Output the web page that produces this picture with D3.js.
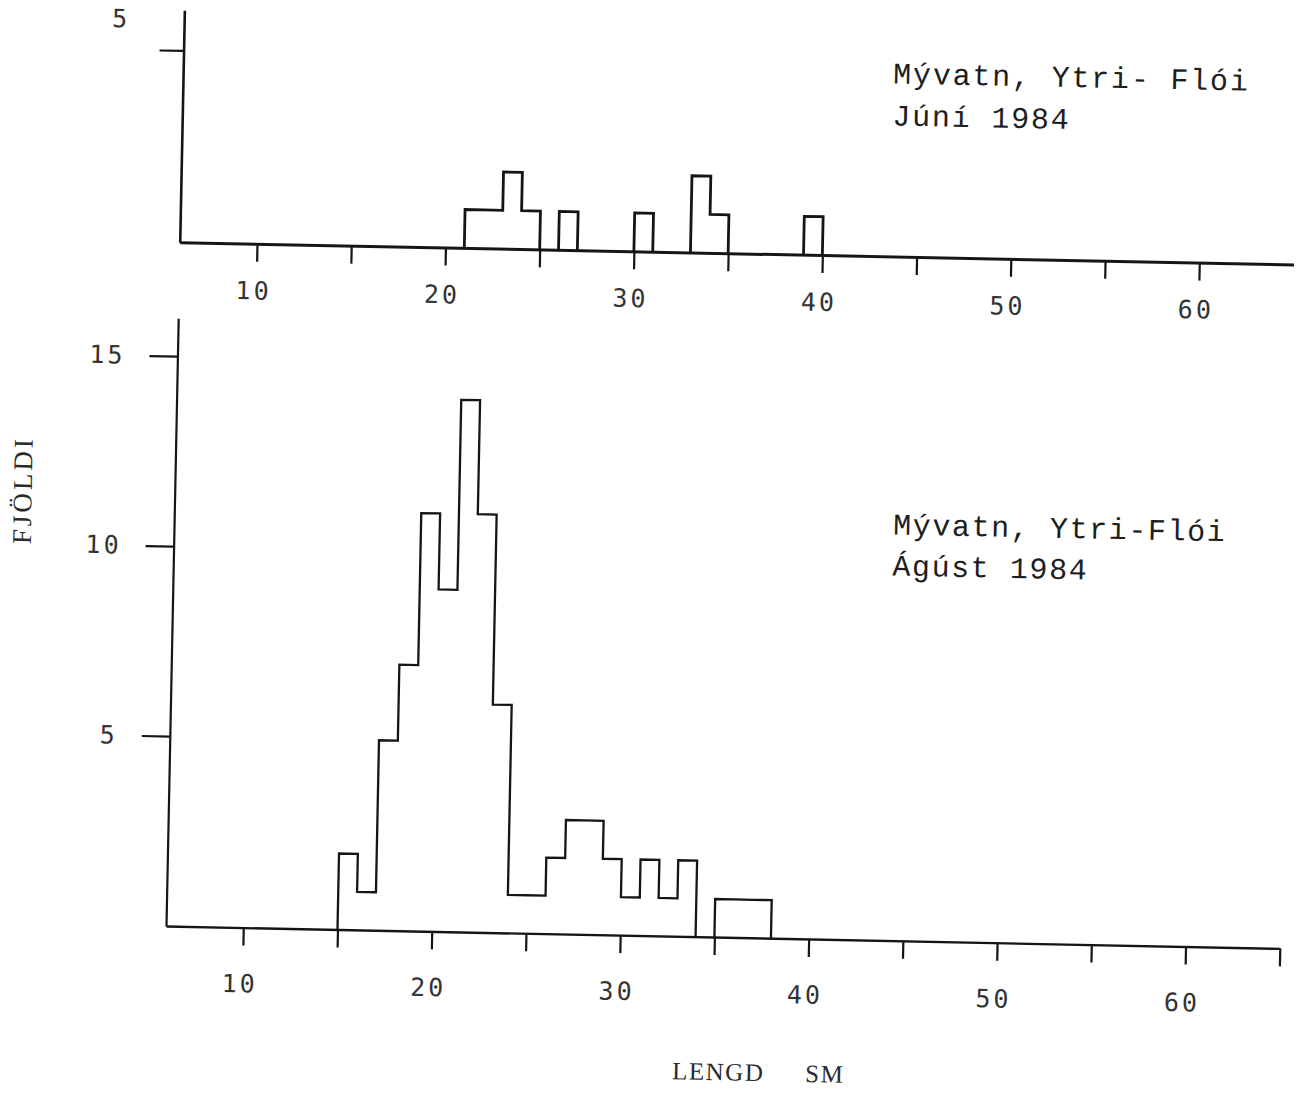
<!DOCTYPE html>
<html>
<head>
<meta charset="utf-8">
<script src="https://cdn.jsdelivr.net/npm/d3@7"></script>
<style>
  body { margin: 0; background: #fff; }
</style>
</head>
<body>
<div id="chart"></div>
<script>
var width = 1296;
var height = 1093;

// length classes (cm, lower edge of 1 cm bins) and counts
var junBins = [21, 22, 23, 24, 25, 26, 27, 28, 29, 30, 31, 32, 33, 34, 35, 36, 37, 38, 39];
var junCounts = [1, 1, 2, 1, 0, 1, 0, 0, 0, 1, 0, 0, 2, 1, 0, 0, 0, 0, 1];

var augBins = [15, 16, 17, 18, 19, 20, 21, 22, 23, 24, 25, 26, 27, 28, 29, 30, 31, 32, 33, 34, 35, 36, 37];
var augCounts = [2, 1, 5, 7, 11, 9, 14, 11, 6, 1, 1, 2, 3, 3, 2, 1, 2, 1, 2, 0, 1, 1, 1];

var xTicksTop = [10, 15, 20, 25, 30, 35, 40, 45, 50, 55, 60];
var xTicksBottom = [10, 15, 20, 25, 30, 35, 40, 45, 50, 55, 60, 65];
var xLabels = [10, 20, 30, 40, 50, 60];
var yTicksTop = [5];
var yTicksBottom = [5, 10, 15];

var junTitle = ["Mývatn, Ytri- Flói", "Júní 1984"];
var augTitle = ["Mývatn, Ytri-Flói", "Ágúst 1984"];

var ink = "#151515";

var svg = d3.select("#chart")
    .append("svg")
    .attr("width", width)
    .attr("height", height);

svg.append("rect")
    .attr("width", width)
    .attr("height", height)
    .attr("fill", "#fff");

// the scanned page sits a little crooked
var page = svg.append("g")
    .attr("transform", "rotate(1.15,165,926)");

var x = d3.scaleLinear()
    .domain([5.9, 65])
    .range([166, 1280]);

var yTop = d3.scaleLinear()
    .domain([0, 6.05])
    .range([242, 10]);

var yBottom = d3.scaleLinear()
    .domain([0, 16])
    .range([926, 318]);

var line = d3.line();

// stepped outline for each run of non-empty bins
function outline(bins, counts, y) {
  var runs = [];
  var pts = null;
  bins.forEach(function(b, i) {
    var n = counts[i];
    if (n > 0) {
      if (!pts) { pts = [[x(b), y(0)]]; }
      pts.push([x(b), y(n)]);
      pts.push([x(b + 1), y(n)]);
    } else if (pts) {
      pts.push([x(b), y(0)]);
      runs.push(pts);
      pts = null;
    }
  });
  if (pts) {
    pts.push([pts[pts.length - 1][0], y(0)]);
    runs.push(pts);
  }
  return runs;
}

function styleAxis(g, lw, fontSize) {
  g.attr("font-family", "'DejaVu Sans Mono', 'Liberation Mono', monospace")
    .attr("font-size", fontSize);
  g.select(".domain").attr("stroke", ink).attr("stroke-width", lw);
  g.selectAll(".tick line").attr("stroke", ink).attr("stroke-width", 2.2);
  g.selectAll(".tick text").attr("fill", "#333").attr("letter-spacing", 3);
}

function xFormat(d) { return xLabels.indexOf(d) >= 0 ? d : ""; }

// top panel: June
var junPanel = page.append("g");

junPanel.append("g")
    .attr("transform", "translate(0," + yTop(0) + ")")
    .call(d3.axisBottom(x).tickValues(xTicksTop).tickFormat(xFormat)
      .tickSize(18).tickSizeOuter(0).tickPadding(20))
    .call(styleAxis, 3, 25)
    .selectAll(".tick text").attr("dx", -3);

junPanel.append("g")
    .attr("transform", "translate(" + x.range()[0] + ",0)")
    .call(d3.axisLeft(yTop).tickValues(yTicksTop).tickFormat(d3.format("d"))
      .tickSize(24).tickSizeOuter(0).tickPadding(30))
    .call(styleAxis, 2.6, 25)
    .selectAll(".tick text").attr("dy", "-0.9em");

junPanel.selectAll("path.bars")
    .data(outline(junBins, junCounts, yTop))
    .enter()
    .append("path")
    .attr("class", "bars")
    .attr("d", line)
    .attr("fill", "none")
    .attr("stroke", ink)
    .attr("stroke-width", 2.8);

junPanel.selectAll("text.title")
    .data(junTitle)
    .enter()
    .append("text")
    .attr("class", "title")
    .attr("x", 876)
    .attr("y", function(d, i) { return 69 + i * 42; })
    .attr("font-family", "'Liberation Mono', monospace")
    .attr("font-size", 30)
    .attr("letter-spacing", 1.8)
    .attr("fill", "#1e1e1e")
    .text(function(d) { return d; });

// bottom panel: August
var augPanel = page.append("g");

augPanel.append("g")
    .attr("transform", "translate(0," + yBottom(0) + ")")
    .call(d3.axisBottom(x).tickValues(xTicksBottom).tickFormat(xFormat)
      .tickSize(18).tickSizeOuter(0).tickPadding(29))
    .call(styleAxis, 2.4, 25)
    .selectAll(".tick text").attr("dx", -3);

augPanel.append("g")
    .attr("transform", "translate(" + x.range()[0] + ",0)")
    .call(d3.axisLeft(yBottom).tickValues(yTicksBottom).tickFormat(d3.format("d"))
      .tickSize(28).tickSizeOuter(0).tickPadding(24))
    .call(styleAxis, 2.2, 25);

augPanel.selectAll("path.bars")
    .data(outline(augBins, augCounts, yBottom))
    .enter()
    .append("path")
    .attr("class", "bars")
    .attr("d", line)
    .attr("fill", "none")
    .attr("stroke", ink)
    .attr("stroke-width", 2.3);

augPanel.selectAll("text.title")
    .data(augTitle)
    .enter()
    .append("text")
    .attr("class", "title")
    .attr("x", 885)
    .attr("y", function(d, i) { return 520 + i * 41; })
    .attr("font-family", "'Liberation Mono', monospace")
    .attr("font-size", 30)
    .attr("letter-spacing", 1.6)
    .attr("fill", "#1e1e1e")
    .text(function(d) { return d; });

// axis titles
page.append("text")
    .attr("transform", "translate(23,493) rotate(-90)")
    .attr("text-anchor", "middle")
    .attr("font-family", "'Liberation Serif', serif")
    .attr("font-size", 27)
    .attr("letter-spacing", 3)
    .attr("fill", "#2b2b2b")
    .text("FJÖLDI");

page.append("text")
    .attr("x", 675)
    .attr("y", 1069)
    .attr("font-family", "'Liberation Serif', serif")
    .attr("font-size", 25)
    .attr("letter-spacing", 1.5)
    .attr("fill", "#2b2b2b")
    .text("LENGD");

page.append("text")
    .attr("x", 808)
    .attr("y", 1069)
    .attr("font-family", "'Liberation Serif', serif")
    .attr("font-size", 25)
    .attr("letter-spacing", 1.5)
    .attr("fill", "#2b2b2b")
    .text("SM");
</script>
</body>
</html>
